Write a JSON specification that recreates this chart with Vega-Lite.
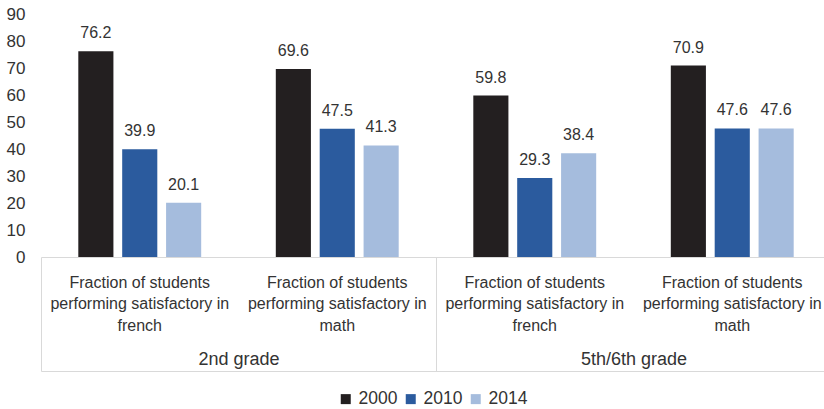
{
  "$schema": "https://vega.github.io/schema/vega-lite/v6.json",
  "width": 783,
  "height": 243,
  "autosize": {"type": "none"},
  "padding": {"left": 41, "top": 14, "right": 0, "bottom": 152},
  "data": {
    "values": [
      {"grade": "2nd grade", "cat": "2nd grade|Fraction of students|performing satisfactory in|french", "year": "2000", "value": 76.2},
      {"grade": "2nd grade", "cat": "2nd grade|Fraction of students|performing satisfactory in|french", "year": "2010", "value": 39.9},
      {"grade": "2nd grade", "cat": "2nd grade|Fraction of students|performing satisfactory in|french", "year": "2014", "value": 20.1},
      {"grade": "2nd grade", "cat": "2nd grade|Fraction of students|performing satisfactory in|math", "year": "2000", "value": 69.6},
      {"grade": "2nd grade", "cat": "2nd grade|Fraction of students|performing satisfactory in|math", "year": "2010", "value": 47.5},
      {"grade": "2nd grade", "cat": "2nd grade|Fraction of students|performing satisfactory in|math", "year": "2014", "value": 41.3},
      {"grade": "5th/6th grade", "cat": "5th/6th grade|Fraction of students|performing satisfactory in|french", "year": "2000", "value": 59.8},
      {"grade": "5th/6th grade", "cat": "5th/6th grade|Fraction of students|performing satisfactory in|french", "year": "2010", "value": 29.3},
      {"grade": "5th/6th grade", "cat": "5th/6th grade|Fraction of students|performing satisfactory in|french", "year": "2014", "value": 38.4},
      {"grade": "5th/6th grade", "cat": "5th/6th grade|Fraction of students|performing satisfactory in|math", "year": "2000", "value": 70.9},
      {"grade": "5th/6th grade", "cat": "5th/6th grade|Fraction of students|performing satisfactory in|math", "year": "2010", "value": 47.6},
      {"grade": "5th/6th grade", "cat": "5th/6th grade|Fraction of students|performing satisfactory in|math", "year": "2014", "value": 47.6}
    ]
  },
  "layer": [
    {
      "encoding": {
        "x": {
          "field": "cat",
          "type": "nominal",
          "scale": {"range": [0, 790], "paddingInner": 0, "paddingOuter": 0},
          "axis": {
            "orient": "bottom",
            "title": null,
            "labelExpr": "slice(split(datum.label, '|'), 1)",
            "labelAngle": 0,
            "labelFontSize": 16,
            "labelLineHeight": 21.7,
            "labelColor": "#333333",
            "labelPadding": 17,
            "labelLimit": 400,
            "labelBaseline": "top",
            "ticks": false,
            "domain": true,
            "domainColor": "#d9d9d9",
            "domainWidth": 1
          }
        },
        "xOffset": {
          "field": "year",
          "type": "nominal",
          "scale": {"paddingInner": 0.2, "paddingOuter": 0.85}
        },
        "y": {
          "field": "value",
          "type": "quantitative",
          "scale": {"domain": [0, 90], "nice": false},
          "axis": {
            "title": null,
            "values": [0, 10, 20, 30, 40, 50, 60, 70, 80, 90],
            "domain": false,
            "ticks": false,
            "grid": false,
            "labelFontSize": 17,
            "labelColor": "#333333",
            "labelPadding": 16
          }
        }
      },
      "layer": [
        {
          "mark": {"type": "bar"},
          "encoding": {
            "color": {
              "field": "year",
              "type": "nominal",
              "scale": {"domain": ["2000", "2010", "2014"], "range": ["#231f20", "#2b5b9e", "#a5bcdd"]},
              "legend": {
                "orient": "bottom",
                "direction": "horizontal",
                "title": null,
                "symbolType": "square",
                "symbolSize": 100,
                "symbolStrokeWidth": 0,
                "labelFontSize": 17.5,
                "labelColor": "#333333",
                "labelOffset": 4,
                "columnPadding": 4
              }
            }
          }
        },
        {
          "mark": {"type": "text", "baseline": "alphabetic", "dy": -13, "fontSize": 16, "color": "#333333"},
          "encoding": {
            "text": {"field": "value", "type": "quantitative", "format": ".1f"}
          }
        }
      ]
    },
    {
      "mark": {"type": "point", "opacity": 0},
      "encoding": {
        "x": {
          "field": "grade",
          "type": "nominal",
          "scale": {"range": [0, 790], "paddingInner": 0, "paddingOuter": 0},
          "axis": {
            "orient": "bottom",
            "title": null,
            "offset": 114,
            "labelAngle": 0,
            "labelFontSize": 18,
            "labelColor": "#333333",
            "labelBaseline": "top",
            "labelPadding": 93,
            "labelLimit": 400,
            "ticks": true,
            "tickBand": "extent",
            "tickSize": -114,
            "tickColor": "#d9d9d9",
            "tickWidth": 1,
            "domain": true,
            "domainColor": "#d9d9d9",
            "domainWidth": 1
          }
        }
      }
    }
  ],
  "resolve": {"scale": {"x": "independent"}, "axis": {"x": "independent"}},
  "config": {
    "font": "Liberation Sans",
    "view": {"stroke": null},
    "axis": {"grid": false},
    "legend": {"layout": {"bottom": {"anchor": "middle"}}}
  }
}
